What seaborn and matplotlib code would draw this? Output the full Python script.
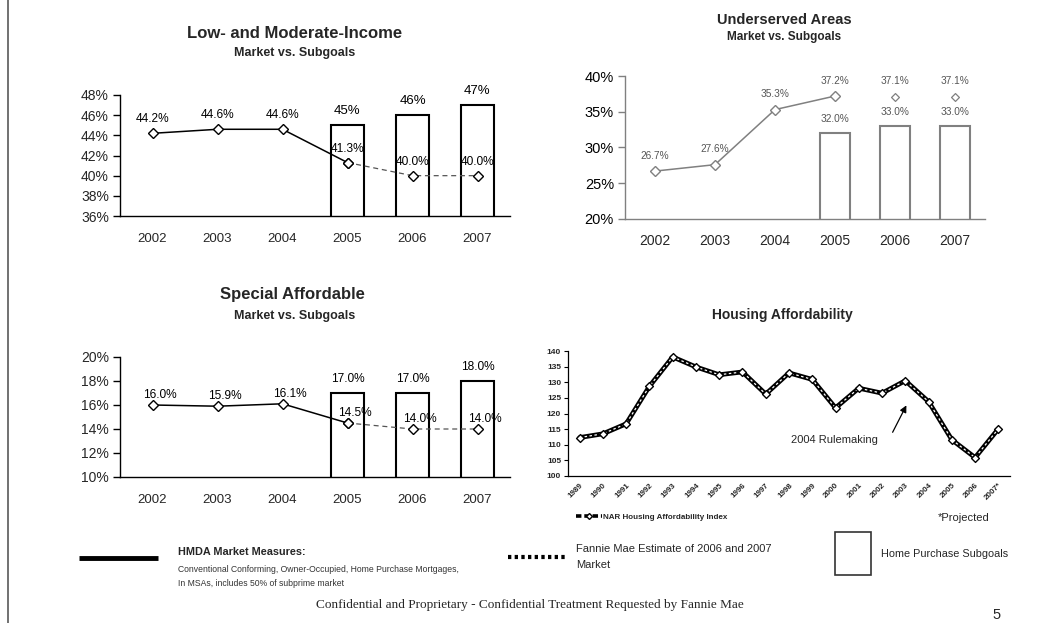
import numpy as np
import pandas as pd
import matplotlib
matplotlib.use("Agg")
import matplotlib.pyplot as plt
from matplotlib.lines import Line2D
from matplotlib.patches import Rectangle
import seaborn as sns

# ---- data ----
years = ["2002", "2003", "2004", "2005", "2006", "2007"]
goal_years = ["2005", "2006", "2007"]

lmi_market = [44.2, 44.6, 44.6, 41.3]      # 2002-2005 HMDA
lmi_estimate = [40.0, 40.0]                # 2006-2007 Fannie Mae estimate
lmi_subgoal = [45, 46, 47]                 # 2005-2007

ua_market = [26.7, 27.6, 35.3, 37.2]
ua_estimate = [37.1, 37.1]
ua_subgoal = [32.0, 33.0, 33.0]

sa_market = [16.0, 15.9, 16.1, 14.5]
sa_estimate = [14.0, 14.0]
sa_subgoal = [17.0, 17.0, 18.0]

hai_years = ["1989", "1990", "1991", "1992", "1993", "1994", "1995", "1996", "1997",
             "1998", "1999", "2000", "2001", "2002", "2003", "2004", "2005", "2006", "2007*"]
hai_values = [112.3, 113.5, 116.7, 128.7, 138.1, 134.9, 132.4, 133.3, 126.2,
              133.0, 130.9, 121.8, 128.1, 126.5, 130.5, 123.8, 111.6, 105.9, 115.1]

W, H = 1050, 623

sns.set_theme(style="white")
plt.rcParams['font.family'] = ['Liberation Sans', 'DejaVu Sans']

fig = plt.figure(figsize=(W / 100, H / 100), dpi=100)
fig.patch.set_facecolor("white")


def box(l, r, t, b):
    return [l / W, 1 - b / H, (r - l) / W, (b - t) / H]


def px(x, y):
    return x / W, 1 - y / H


def goal_panel(ax, market, estimate, subgoal, ylim, ystep, color, bar_fmt,
               line_off, bar_off, lab_color, est_line=True, tick_fs=10, lab_fs=8.6,
               year_fs=9.5, year_pad=12):
    bars = pd.DataFrame({"year": goal_years, "goal": subgoal})
    sns.barplot(data=bars, x="year", y="goal", order=years, ax=ax, width=0.5,
                color="white", edgecolor=color, linewidth=1.5, saturation=1)
    for p in ax.patches:
        p.set_facecolor("white")
    pos = np.arange(len(years))
    sns.lineplot(x=pos[:4], y=market, ax=ax, color=color, lw=1.1, marker="D", ms=5,
                 markerfacecolor="white", markeredgecolor=color, markeredgewidth=1)
    est_y = [market[-1]] + estimate
    if est_line:
        sns.lineplot(x=pos[3:], y=est_y, ax=ax, color="#555555", lw=0.9,
                     linestyle=(0, (4, 3)), marker="D", ms=5, markerfacecolor="white",
                     markeredgecolor=color, markeredgewidth=1)
    else:
        sns.scatterplot(x=pos[4:], y=estimate, ax=ax, marker="D", s=16, color="white",
                        edgecolor=color, linewidth=0.9, zorder=3)
    for i, v in enumerate(market + estimate):
        ax.annotate(f"{v:.1f}%", (pos[i], v), xytext=line_off, textcoords="offset points",
                    ha="center", va="center", fontsize=lab_fs, color=lab_color, zorder=5)
    for i, v in enumerate(subgoal):
        ax.annotate(bar_fmt.format(v), (pos[3 + i], v), xytext=(0, bar_off),
                    textcoords="offset points", ha="center", va="center",
                    fontsize=lab_fs if bar_fmt != "{:.0f}%" else 9.5, color=lab_color)
    ax.set_xlim(-0.5, 5.5)
    ax.set_ylim(*ylim)
    yt = np.arange(ylim[0], ylim[1] + 0.01, ystep)
    ax.set_yticks(yt)
    ax.set_yticklabels([f"{t:.0f}%" for t in yt], fontsize=tick_fs)
    ax.set_xticks(np.arange(-0.5, 6, 1))
    ax.set_xticklabels([])
    ax.set_xticks(pos, minor=True)
    ax.set_xticklabels(years, minor=True, fontsize=year_fs)
    ax.tick_params(axis="x", which="major", direction="inout", length=9, width=1, color=color)
    ax.tick_params(axis="x", which="minor", length=0, pad=year_pad)
    ax.tick_params(axis="y", direction="out", length=5, width=1, color=color, pad=3, left=True)
    ax.set_xlabel("")
    ax.set_ylabel("")
    for s in ["top", "right"]:
        ax.spines[s].set_visible(False)
    for s in ["left", "bottom"]:
        ax.spines[s].set_color(color)
        ax.spines[s].set_linewidth(1)
    ax.set_facecolor("none")


# ---- Low- and Moderate-Income ----
ax1 = fig.add_axes(box(120, 510, 95, 216))
goal_panel(ax1, lmi_market, lmi_estimate, lmi_subgoal, (36, 48), 2, "black", "{:.0f}%",
           (0, 10), 10, "black")
fig.text(*px(295, 33), "Low- and Moderate-Income", ha="center", va="center",
         fontsize=12, fontweight="bold")
fig.text(*px(295, 53), "Market vs. Subgoals", ha="center", va="center",
         fontsize=9, fontweight="bold")

# ---- Underserved Areas ----
ax2 = fig.add_axes(box(625, 985, 76, 219))
goal_panel(ax2, ua_market, ua_estimate, ua_subgoal, (20, 40), 5, "#808080", "{:.1f}%",
           (0, 11), 10, "#555555", est_line=False, tick_fs=10.5, lab_fs=7.3, year_fs=10,
           year_pad=11)
ax2.tick_params(axis="y", labelcolor="black")
fig.text(*px(784, 20), "Underserved Areas", ha="center", va="center",
         fontsize=10.5, fontweight="bold")
fig.text(*px(784, 37), "Market vs. Subgoals", ha="center", va="center",
         fontsize=8.5, fontweight="bold")

# ---- Special Affordable ----
ax3 = fig.add_axes(box(120, 510, 357, 477))
goal_panel(ax3, sa_market, sa_estimate, sa_subgoal, (10, 20), 2, "black", "{:.1f}%",
           (5, 7), 10, "black")
fig.text(*px(292, 295), "Special Affordable", ha="center", va="center",
         fontsize=12, fontweight="bold")
fig.text(*px(295, 316), "Market vs. Subgoals", ha="center", va="center",
         fontsize=9, fontweight="bold")

# ---- Housing Affordability ----
ax4 = fig.add_axes(box(568, 1010, 351, 476))
hpos = np.arange(len(hai_years))
sns.lineplot(x=hpos, y=hai_values, ax=ax4, color="black", lw=3.4)
sns.lineplot(x=hpos, y=hai_values, ax=ax4, color="white", lw=0.9, linestyle=(0, (2, 2)))
sns.scatterplot(x=hpos, y=hai_values, ax=ax4, marker="D", s=16, color="white",
                edgecolor="black", linewidth=1, zorder=4)
ax4.set_xlim(-0.5, len(hai_years) - 0.5)
ax4.set_ylim(100, 140)
ax4.set_yticks(np.arange(100, 141, 5))
ax4.set_yticklabels([str(v) for v in range(100, 141, 5)], fontsize=6, fontweight="bold")
ax4.set_xticks(np.arange(-0.5, len(hai_years), 1))
ax4.set_xticklabels([])
ax4.set_xticks(hpos, minor=True)
ax4.set_xticklabels(hai_years, minor=True, rotation=45, ha="right", va="top",
                    rotation_mode="anchor", fontsize=5.8, fontweight="bold")
ax4.tick_params(axis="x", which="major", direction="out", length=3, width=0.8, color="black")
ax4.tick_params(axis="x", which="minor", length=0, pad=4)
ax4.tick_params(axis="y", direction="out", length=3, width=0.8, color="black", pad=2, left=True)
for s in ["top", "right"]:
    ax4.spines[s].set_visible(False)
for s in ["left", "bottom"]:
    ax4.spines[s].set_color("black")
    ax4.spines[s].set_linewidth(0.9)
ax4.set_facecolor("none")
ax4.annotate("", xy=(14.1, 123.4), xytext=(13.4, 113.2),
             arrowprops=dict(arrowstyle="-|>", color="black", lw=0.9, mutation_scale=10))
ax4.text(9.1, 111.5, "2004 Rulemaking", ha="left", va="center", fontsize=8)
fig.text(*px(782, 315), "Housing Affordability", ha="center", va="center",
         fontsize=10, fontweight="bold")
nar = Line2D([], [], color="black", lw=2.6, linestyle=(0, (1.5, 0.8)), marker="D", ms=3,
             markerfacecolor="white", markeredgecolor="black", markevery=[1])
fig.legend([nar], ["NAR Housing Affordability Index"], loc="center left",
           bbox_to_anchor=px(572, 517), frameon=False, handlelength=3.2, handletextpad=0.1,
           borderpad=0, prop={"size": 5.8, "weight": "bold"})
fig.text(*px(938, 518), "*Projected", ha="left", va="center", fontsize=8)

# ---- bottom legend ----
fig.add_artist(Line2D([79 / W, 158 / W], [1 - 558 / H] * 2, color="black", lw=3.5,
                      solid_capstyle="butt"))
fig.text(*px(178, 552), "HMDA Market Measures:", ha="left", va="center",
         fontsize=7.8, fontweight="bold")
fig.text(*px(178, 569), "Conventional Conforming, Owner-Occupied, Home Purchase Mortgages,",
         ha="left", va="center", fontsize=6.2, color="#333333")
fig.text(*px(178, 584), "In MSAs, includes 50% of subprime market",
         ha="left", va="center", fontsize=6.2, color="#333333")
fig.add_artist(Line2D([508 / W, 566 / W], [1 - 557 / H] * 2, color="black", lw=3,
                      linestyle=(0, (0.8, 0.8)), dash_capstyle="butt"))
fig.text(*px(576, 549), "Fannie Mae Estimate of 2006 and 2007", ha="left", va="center",
         fontsize=8)
fig.text(*px(576, 565), "Market", ha="left", va="center", fontsize=8)
fig.add_artist(Rectangle(px(835, 575), 36 / W, 43 / H, transform=fig.transFigure,
                         facecolor="white", edgecolor="#333333", lw=1.2))
fig.text(*px(881, 554), "Home Purchase Subgoals", ha="left", va="center", fontsize=7.8)

fig.text(*px(530, 605), "Confidential and Proprietary - Confidential Treatment Requested by Fannie Mae",
         ha="center", va="center", fontsize=9.5, family="Liberation Serif")
fig.text(*px(997, 615), "5", ha="center", va="center", fontsize=10.5)

fig.add_artist(Line2D([8 / W, 8 / W], [0, 1], color="#666666", lw=1.3))

fig.savefig("out.png", dpi=100, facecolor="white")
